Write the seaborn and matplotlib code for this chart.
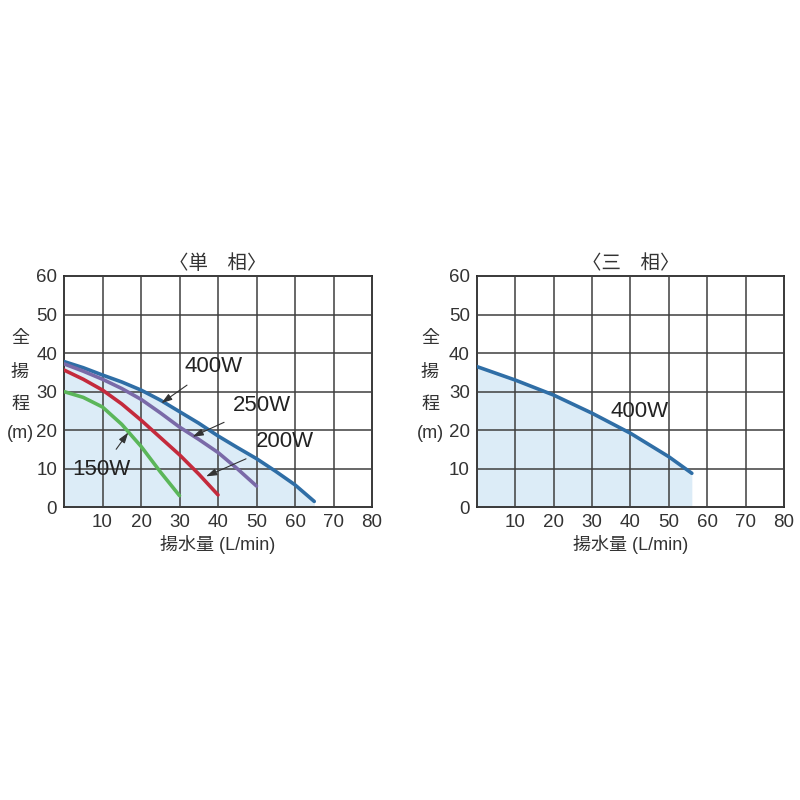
import numpy as np
import pandas as pd
import matplotlib
matplotlib.use("Agg")
import matplotlib.pyplot as plt
import seaborn as sns

sns.set_theme(style="white")
plt.rcParams['font.family'] = ['Liberation Sans', 'Noto Sans CJK JP', 'DejaVu Sans']

# ---- data ----
flow_400 = [0, 5, 10, 15, 20, 25, 30, 35, 40, 45, 50, 55, 60, 65]
head_400 = [37.8, 36.2, 34.3, 32.5, 30.4, 27.8, 24.8, 21.8, 18.5, 15.5, 12.6, 9.3, 5.8, 1.5]
flow_250 = [0, 5, 10, 15, 20, 25, 30, 35, 40, 45, 50]
head_250 = [37.2, 35.3, 33.2, 30.8, 28.0, 24.5, 20.8, 17.6, 14.2, 10.0, 5.5]
flow_200 = [0, 5, 10, 15, 20, 25, 30, 35, 40]
head_200 = [35.6, 33.2, 30.4, 26.8, 22.6, 18.1, 13.6, 8.6, 3.2]
flow_150 = [0, 5, 10, 15, 20, 25, 30]
head_150 = [30.0, 28.5, 26.0, 21.5, 15.8, 9.2, 3.0]
flow_3p = [0, 10, 20, 30, 40, 50, 56]
head_3p = [36.5, 33.0, 29.1, 24.4, 19.2, 13.1, 8.8]

x_ticks = [10, 20, 30, 40, 50, 60, 70, 80]
y_ticks = [0, 10, 20, 30, 40, 50, 60]
titles = ["〈単　相〉", "〈三　相〉"]
xlabel = "揚水量 (L/min)"
ylabel_chars = ["全", "揚", "程", "(m)"]

c_blue = "#2f6ea6"
c_purple = "#7a6aa8"
c_red = "#c42a3c"
c_green = "#5bb65a"
c_fill = "#dcecf7"
c_grid = "#3f3f3f"
c_text = "#333333"

fig = plt.figure(figsize=(8, 8), dpi=100)
axL = fig.add_axes([0.080, 0.366, 0.385, 0.289])
axR = fig.add_axes([0.596, 0.366, 0.384, 0.289])


def style_axes(ax, title):
    ax.set_xlim(0, 80)
    ax.set_ylim(0, 60)
    ax.set_xticks(x_ticks)
    ax.set_yticks(y_ticks)
    ax.grid(True, color=c_grid, linewidth=1.1)
    ax.set_axisbelow(False)
    for s in ax.spines.values():
        s.set_color("#2a2a2a")
        s.set_linewidth(1.3)
    ax.tick_params(length=0, labelsize=13.5, colors=c_text, pad=5)
    ax.set_xlabel(xlabel, fontsize=13, color=c_text, labelpad=3)
    ax.set_ylabel("")
    ax.set_title(title, fontsize=14, color=c_text, pad=5)


# left: single-phase
axL.fill_between(flow_400, 0, head_400, color=c_fill, zorder=0, linewidth=0)
for fx, hy, col in [(flow_400, head_400, c_blue), (flow_250, head_250, c_purple),
                    (flow_200, head_200, c_red), (flow_150, head_150, c_green)]:
    sns.lineplot(x=fx, y=hy, ax=axL, color=col, linewidth=2.6, zorder=3)
style_axes(axL, titles[0])

ann = dict(fontsize=16, color="#222222", ha="center", va="center")
arrow = dict(arrowstyle="-|>,head_length=0.4,head_width=0.13", color="#333333", lw=0.8,
             shrinkA=6, shrinkB=0)
axL.annotate("400W", xy=(25.3, 27.0), xytext=(38.8, 36.5), arrowprops=arrow, **ann)
axL.annotate("250W", xy=(33.4, 18.3), xytext=(51.4, 26.5), arrowprops=arrow, **ann)
axL.annotate("200W", xy=(36.9, 8.0), xytext=(57.4, 17.0), arrowprops=arrow, **ann)
axL.annotate("150W", xy=(16.7, 19.4), xytext=(9.7, 9.7), arrowprops=arrow, **ann)

# right: three-phase
axR.fill_between(flow_3p, 0, head_3p, color=c_fill, zorder=0, linewidth=0)
sns.lineplot(x=flow_3p, y=head_3p, ax=axR, color=c_blue, linewidth=2.6, zorder=3)
style_axes(axR, titles[1])
axR.text(42.5, 24.8, "400W", **ann)

# vertical y labels
for left_px in (20, 430):
    for ch, ypx in zip(ylabel_chars, [338, 372, 405, 433]):
        fig.text(left_px / 800, 1 - ypx / 800, ch, fontsize=13, color=c_text,
                 ha="center", va="center")

fig.savefig("out.png", dpi=100, facecolor="white")
